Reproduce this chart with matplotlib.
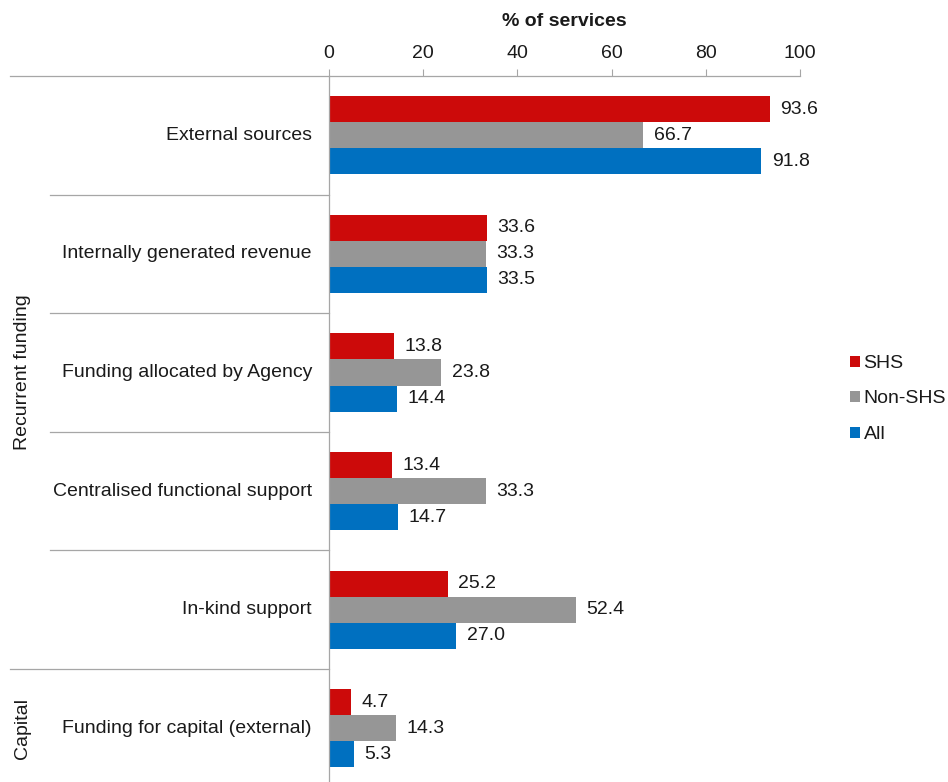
import matplotlib.pyplot as plt

plt.rcParams['font.family'] = ['Liberation Sans', 'DejaVu Sans']

categories = ["External sources", "Internally generated revenue",
              "Funding allocated by Agency", "Centralised functional support",
              "In-kind support", "Funding for capital (external)"]
series_names = ["SHS", "Non-SHS", "All"]
shs = [93.6, 33.6, 13.8, 13.4, 25.2, 4.7]
non_shs = [66.7, 33.3, 23.8, 33.3, 52.4, 14.3]
all_services = [91.8, 33.5, 14.4, 14.7, 27.0, 5.3]
groups = [("Recurrent funding", 0, 4), ("Capital", 5, 5)]

colors = ["#CC0A0A", "#969696", "#0070C0"]
line_col = "#A6A6A6"
txt_col = "#1a1a1a"
fs = 14

fig = plt.figure(figsize=(9.48, 7.82), dpi=100)
ax = fig.add_axes([329 / 948, 0.0, 471 / 948, 1 - 76 / 782])

h = 0.22
for k, vals in enumerate([shs, non_shs, all_services]):
    ys = [i + (k - 1) * h for i in range(len(categories))]
    ax.barh(ys, vals, height=h, color=colors[k], label=series_names[k])
    for y, v in zip(ys, vals):
        ax.annotate(f"{v:.1f}", (v, y), xytext=(7.5, 0), textcoords="offset points",
                    va="center", ha="left", fontsize=fs, color=txt_col)

ax.set_xlim(0, 100)
ax.set_ylim(-0.5 + 706 / 118.6, -0.5)
ax.set_xticks(range(0, 101, 20))
ax.xaxis.tick_top()
ax.tick_params(axis="x", direction="out", length=5, width=0.8, color=line_col,
               labelsize=fs, pad=5, labelcolor=txt_col)
ax.set_yticks([])
for s in ["right", "bottom"]:
    ax.spines[s].set_visible(False)
for s in ["top", "left"]:
    ax.spines[s].set_color(line_col)
    ax.spines[s].set_linewidth(0.9)
ax.set_xlabel("% of services", fontsize=fs, fontweight="bold", labelpad=14,
              color=txt_col)
ax.xaxis.set_label_position("top")

# category labels and separators to the left of the axis
trans = ax.get_yaxis_transform()
for i, cat in enumerate(categories):
    ax.text(-17 / 471, i, cat, transform=trans, ha="right", va="center",
            fontsize=fs, color=txt_col)
x_group = (10 - 329) / 471
x_cat = (50 - 329) / 471
ax.plot([x_group, 0], [-0.5, -0.5], transform=trans, color=line_col, lw=0.9, clip_on=False)
for i in range(len(categories) - 1):
    start = x_group if i + 0.5 == groups[1][1] - 0.5 else x_cat
    ax.plot([start, 0], [i + 0.5, i + 0.5], transform=trans, color=line_col,
            lw=0.9, clip_on=False)
for name, a, b in groups:
    ax.text((22 - 329) / 471, (a + b) / 2, name, transform=trans, rotation=90,
            ha="center", va="center", fontsize=fs, color=txt_col)

leg = ax.legend(loc="center left", bbox_to_anchor=(850 / 948, 1 - 399 / 782),
                bbox_transform=fig.transFigure, frameon=False, fontsize=fs,
                handlelength=0.5, handleheight=0.5, handletextpad=0.2,
                labelspacing=0.95, borderaxespad=0, borderpad=0)
for t in leg.get_texts():
    t.set_color(txt_col)

fig.savefig("out.png", dpi=100)
